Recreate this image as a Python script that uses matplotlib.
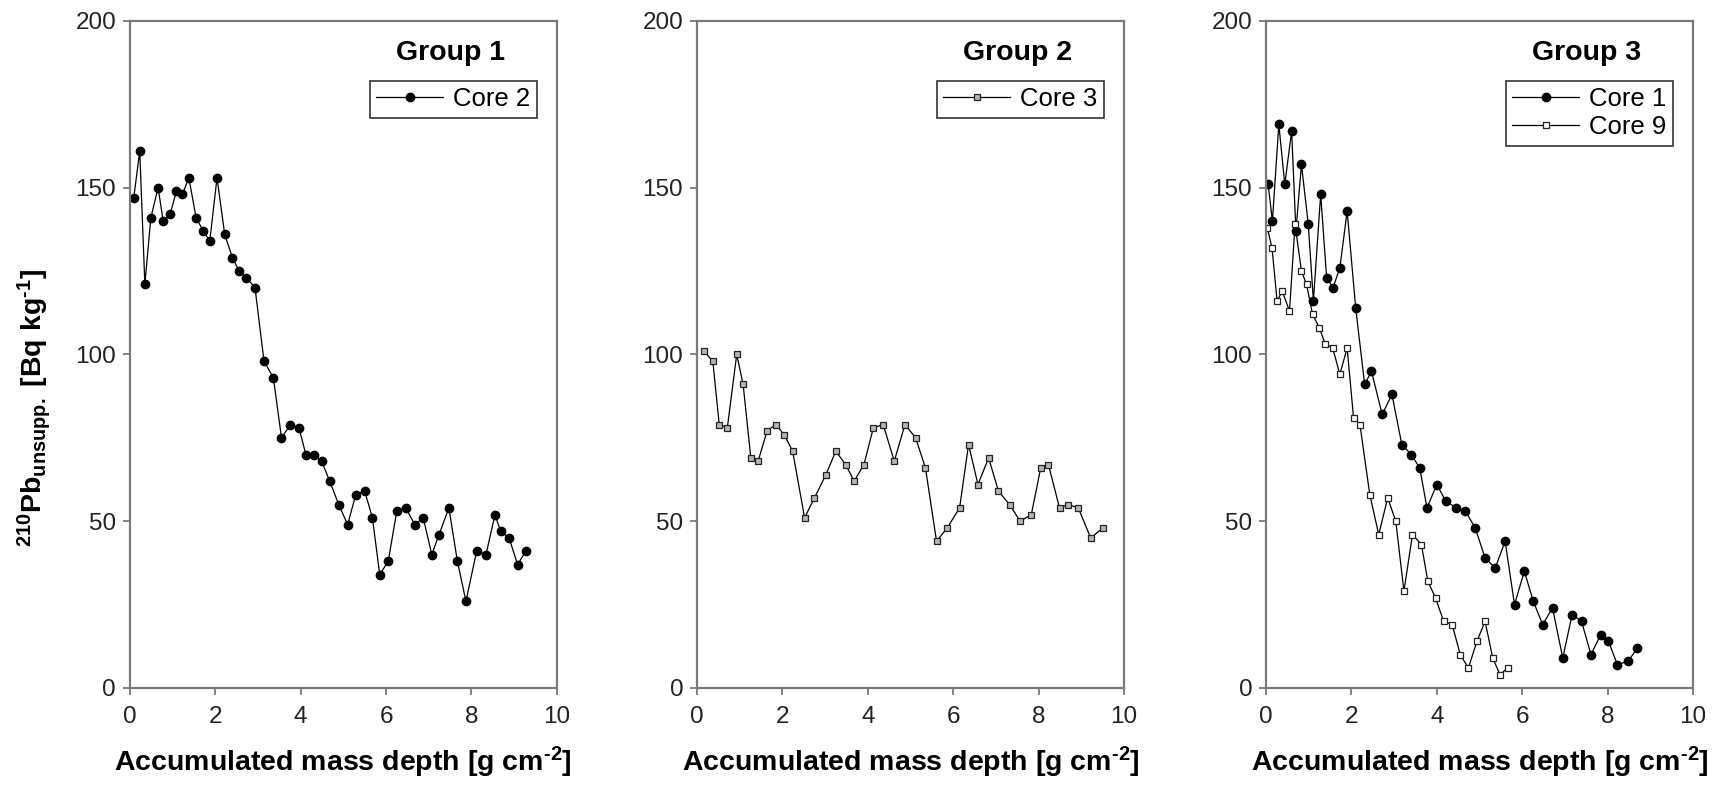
import matplotlib
matplotlib.use("Agg")
import matplotlib.pyplot as plt

plt.rcParams["font.family"] = ["Liberation Sans", "DejaVu Sans"]
plt.rcParams["mathtext.fontset"] = "custom"
plt.rcParams["mathtext.rm"] = "Liberation Sans:bold"
plt.rcParams["mathtext.it"] = "Liberation Sans:bold:italic"
plt.rcParams["mathtext.bf"] = "Liberation Sans:bold"

# Group 1 - Core 2
depth_core2 = [0.09, 0.23, 0.35, 0.49, 0.66, 0.78, 0.94, 1.09, 1.23, 1.38,
               1.55, 1.72, 1.87, 2.04, 2.22, 2.40, 2.56, 2.73, 2.93, 3.14,
               3.36, 3.55, 3.76, 3.96, 4.12, 4.32, 4.49, 4.68, 4.89, 5.10,
               5.29, 5.50, 5.68, 5.85, 6.05, 6.25, 6.46, 6.67, 6.87, 7.07,
               7.24, 7.47, 7.67, 7.87, 8.12, 8.34, 8.55, 8.68, 8.88, 9.08,
               9.27]
pb_core2 = [147, 161, 121, 141, 150, 140, 142, 149, 148, 153,
            141, 137, 134, 153, 136, 129, 125, 123, 120, 98,
            93, 75, 79, 78, 70, 70, 68, 62, 55, 49,
            58, 59, 51, 34, 38, 53, 54, 49, 51, 40,
            46, 54, 38, 26, 41, 40, 52, 47, 45, 37,
            41]

# Group 2 - Core 3
depth_core3 = [0.16, 0.37, 0.52, 0.71, 0.93, 1.08, 1.26, 1.43, 1.64, 1.84,
               2.04, 2.24, 2.52, 2.75, 3.02, 3.25, 3.48, 3.68, 3.91, 4.13,
               4.36, 4.62, 4.87, 5.12, 5.35, 5.61, 5.86, 6.15, 6.36, 6.58,
               6.83, 7.06, 7.32, 7.57, 7.83, 8.05, 8.23, 8.49, 8.69, 8.93,
               9.22, 9.51]
pb_core3 = [101, 98, 79, 78, 100, 91, 69, 68, 77, 79,
            76, 71, 51, 57, 64, 71, 67, 62, 67, 78,
            79, 68, 79, 75, 66, 44, 48, 54, 73, 61,
            69, 59, 55, 50, 52, 66, 67, 54, 55, 54,
            45, 48]

# Group 3 - Core 1
depth_core1 = [0.05, 0.15, 0.30, 0.44, 0.60, 0.70, 0.83, 0.99, 1.11, 1.28,
               1.42, 1.57, 1.73, 1.90, 2.10, 2.31, 2.47, 2.72, 2.95, 3.18,
               3.40, 3.60, 3.77, 4.00, 4.21, 4.46, 4.67, 4.90, 5.13, 5.37,
               5.60, 5.82, 6.05, 6.26, 6.48, 6.71, 6.95, 7.17, 7.39, 7.61,
               7.84, 8.02, 8.23, 8.48, 8.70]
pb_core1 = [151, 140, 169, 151, 167, 137, 157, 139, 116, 148,
            123, 120, 126, 143, 114, 91, 95, 82, 88, 73,
            70, 66, 54, 61, 56, 54, 53, 48, 39, 36,
            44, 25, 35, 26, 19, 24, 9, 22, 20, 10,
            16, 14, 7, 8, 12]

# Group 3 - Core 9
depth_core9 = [0.03, 0.14, 0.26, 0.38, 0.55, 0.68, 0.83, 0.95, 1.09, 1.25,
               1.39, 1.56, 1.73, 1.90, 2.05, 2.20, 2.43, 2.64, 2.85, 3.04,
               3.23, 3.43, 3.64, 3.79, 3.97, 4.16, 4.36, 4.55, 4.74, 4.94,
               5.13, 5.31, 5.48, 5.66]
pb_core9 = [138, 132, 116, 119, 113, 139, 125, 121, 112, 108,
            103, 102, 94, 102, 81, 79, 58, 46, 57, 50,
            29, 46, 43, 32, 27, 20, 19, 10, 6, 14,
            20, 9, 4, 6]

group_titles = ["Group 1", "Group 2", "Group 3"]
x_ticks = [0, 2, 4, 6, 8, 10]
y_ticks = [0, 50, 100, 150, 200]

SPINE = "#7a7a7a"
XLABEL = r"Accumulated mass depth [g cm$^{\text{-2}}$]"
YLABEL = r"$^{210}$Pb$_{\mathrm{unsupp.}}$ [Bq kg$^{\text{-1}}$]"

fig = plt.figure(figsize=(17.3, 7.85), dpi=100)
lefts = [0.0751, 0.4029, 0.7318]
axes = [fig.add_axes([l, 0.1236, 0.2468, 0.8497]) for l in lefts]

line_kw = dict(color="black", linewidth=0.9)

ax1, ax2, ax3 = axes
ax1.plot(depth_core2, pb_core2, marker="o", markersize=6,
         markerfacecolor="black", markeredgecolor="black",
         label="Core 2", **line_kw)
ax2.plot(depth_core3, pb_core3, marker="s", markersize=4.3,
         markerfacecolor="#b5b5b5", markeredgecolor="#222222",
         markeredgewidth=0.9, label="Core 3", **line_kw)
ax3.plot(depth_core1, pb_core1, marker="o", markersize=6,
         markerfacecolor="black", markeredgecolor="black",
         label="Core 1", **line_kw)
ax3.plot(depth_core9, pb_core9, marker="s", markersize=4.8,
         markerfacecolor="white", markeredgecolor="#222222",
         markeredgewidth=0.9, label="Core 9", **line_kw)

for ax, title in zip(axes, group_titles):
    ax.set_xlim(0, 10)
    ax.set_ylim(0, 200)
    ax.set_xticks(x_ticks)
    ax.set_yticks(y_ticks)
    for sp in ax.spines.values():
        sp.set_color(SPINE)
        sp.set_linewidth(1.6)
    ax.tick_params(axis="both", direction="out", length=5, width=1.3,
                   color=SPINE, labelsize=17.5, labelcolor="#222222")
    ax.tick_params(axis="x", pad=8)
    ax.tick_params(axis="y", pad=5)
    ax.set_xlabel(XLABEL, fontsize=20.5, fontweight="bold", labelpad=12)
    ax.text(0.75, 0.952, title, transform=ax.transAxes, ha="center",
            va="center", fontsize=20.5, fontweight="bold")
    leg = ax.legend(loc="upper right", bbox_to_anchor=(0.953, 0.91),
                    fontsize=18.5, frameon=True, fancybox=False,
                    edgecolor="#333333", framealpha=1, borderpad=0.25,
                    handlelength=2.6, handletextpad=0.4,
                    labelspacing=0.15, borderaxespad=0)
    leg.get_frame().set_linewidth(1.2)

ax1.set_ylabel(YLABEL, fontsize=20.5, fontweight="bold")
ax1.yaxis.set_label_coords(-0.18, 0.42)

fig.savefig("out.png", dpi=100)
